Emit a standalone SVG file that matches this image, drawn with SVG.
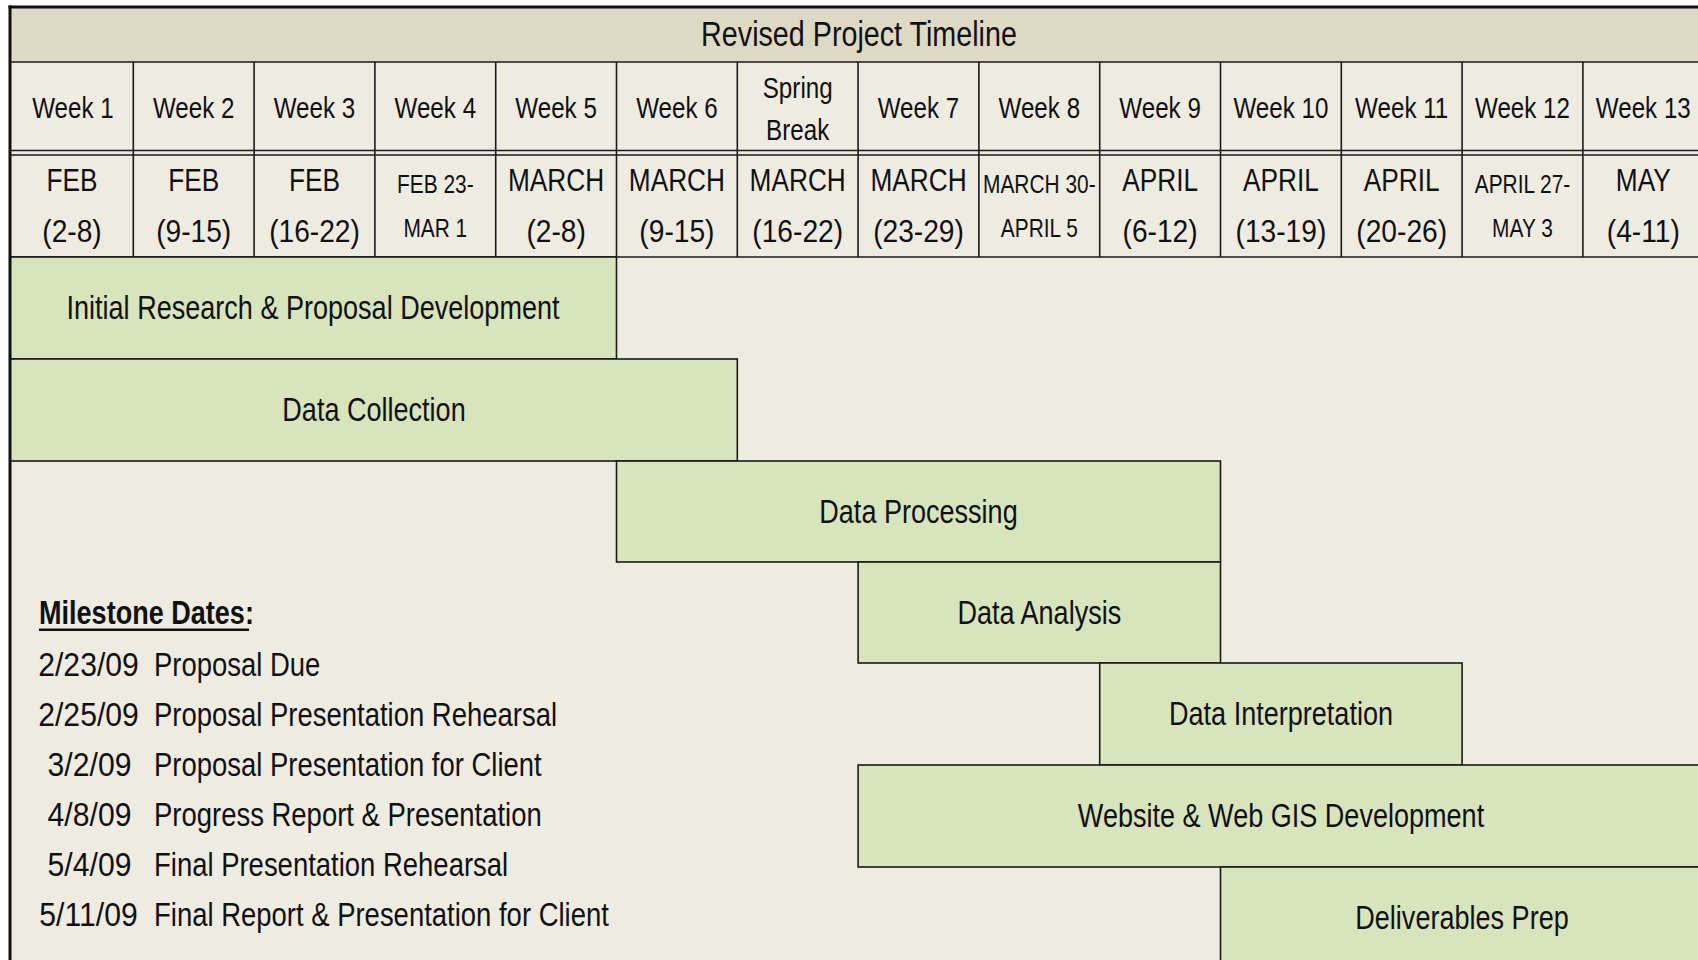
<svg xmlns="http://www.w3.org/2000/svg" width="1698" height="960" viewBox="0 0 1698 960">
<style>
text{font-family:"Liberation Sans",Arial,sans-serif;fill:#111;text-anchor:middle}
.title{font-size:35px}
.wk{font-size:29.5px}
.dt{font-size:32px}
.ds{font-size:25.5px}
.bar rect{fill:#D8E4BC;stroke:#1a1a1a;stroke-width:1.6}
.bar text{font-size:33px}
.grid line{stroke:#1a1a1a;stroke-width:1.6}
.ms text{font-size:33.5px;text-anchor:start}
.ms text.d{text-anchor:middle}
.ms text.h{font-size:33px;font-weight:bold}
</style>
<rect x="0" y="0" width="1698" height="960" fill="#ffffff"/>
<rect x="10" y="7" width="1700" height="960" fill="#EEECE1"/>
<rect x="10" y="7" width="1700" height="55" fill="#DDD9C4"/>
<g id="header-title"><text class="title" transform="translate(859,46) scale(.82,1)">Revised Project Timeline</text></g>
<g class="grid" id="grid">
<line x1="10" y1="62" x2="1698" y2="62"/>
<line x1="10" y1="150.5" x2="1698" y2="150.5"/>
<line x1="10" y1="155" x2="1698" y2="155"/>
<line x1="10" y1="257" x2="1698" y2="257"/>
<line x1="133.3" y1="62" x2="133.3" y2="257"/>
<line x1="254.1" y1="62" x2="254.1" y2="257"/>
<line x1="374.9" y1="62" x2="374.9" y2="257"/>
<line x1="495.7" y1="62" x2="495.7" y2="257"/>
<line x1="616.5" y1="62" x2="616.5" y2="257"/>
<line x1="737.3" y1="62" x2="737.3" y2="257"/>
<line x1="858.1" y1="62" x2="858.1" y2="257"/>
<line x1="978.9" y1="62" x2="978.9" y2="257"/>
<line x1="1099.7" y1="62" x2="1099.7" y2="257"/>
<line x1="1220.5" y1="62" x2="1220.5" y2="257"/>
<line x1="1341.3" y1="62" x2="1341.3" y2="257"/>
<line x1="1462.1" y1="62" x2="1462.1" y2="257"/>
<line x1="1582.9" y1="62" x2="1582.9" y2="257"/>
</g>
<g id="weeks">
<g id="wk1"><text class="wk" transform="translate(73,118) scale(.82,1)">Week 1</text></g>
<g id="wk2"><text class="wk" transform="translate(193.7,118) scale(.82,1)">Week 2</text></g>
<g id="wk3"><text class="wk" transform="translate(314.5,118) scale(.82,1)">Week 3</text></g>
<g id="wk4"><text class="wk" transform="translate(435.3,118) scale(.82,1)">Week 4</text></g>
<g id="wk5"><text class="wk" transform="translate(556.1,118) scale(.82,1)">Week 5</text></g>
<g id="wk6"><text class="wk" transform="translate(676.9,118) scale(.82,1)">Week 6</text></g>
<g id="wkSB"><text class="wk" transform="translate(797.7,98) scale(.82,1)">Spring</text><text class="wk" transform="translate(797.7,140) scale(.82,1)">Break</text></g>
<g id="wk7"><text class="wk" transform="translate(918.5,118) scale(.82,1)">Week 7</text></g>
<g id="wk8"><text class="wk" transform="translate(1039.3,118) scale(.82,1)">Week 8</text></g>
<g id="wk9"><text class="wk" transform="translate(1160.1,118) scale(.82,1)">Week 9</text></g>
<g id="wk10"><text class="wk" transform="translate(1280.9,118) scale(.82,1)">Week 10</text></g>
<g id="wk11"><text class="wk" transform="translate(1401.7,118) scale(.82,1)">Week 11</text></g>
<g id="wk12"><text class="wk" transform="translate(1522.5,118) scale(.82,1)">Week 12</text></g>
<g id="wk13"><text class="wk" transform="translate(1643.3,118) scale(.82,1)">Week 13</text></g>
</g>
<g id="dates">
<g id="d1"><text class="dt" transform="translate(72,191) scale(.82,1)">FEB</text><text class="dt" transform="translate(72,242) scale(.88,1)">(2-8)</text></g>
<g id="d2"><text class="dt" transform="translate(193.7,191) scale(.82,1)">FEB</text><text class="dt" transform="translate(193.7,242) scale(.88,1)">(9-15)</text></g>
<g id="d3"><text class="dt" transform="translate(314.5,191) scale(.82,1)">FEB</text><text class="dt" transform="translate(314.5,242) scale(.88,1)">(16-22)</text></g>
<g id="d4"><text class="ds" transform="translate(435.3,193) scale(.82,1)">FEB 23-</text><text class="ds" transform="translate(435.3,237) scale(.82,1)">MAR 1</text></g>
<g id="d5"><text class="dt" transform="translate(556.1,191) scale(.82,1)">MARCH</text><text class="dt" transform="translate(556.1,242) scale(.88,1)">(2-8)</text></g>
<g id="d6"><text class="dt" transform="translate(676.9,191) scale(.82,1)">MARCH</text><text class="dt" transform="translate(676.9,242) scale(.88,1)">(9-15)</text></g>
<g id="d7"><text class="dt" transform="translate(797.7,191) scale(.82,1)">MARCH</text><text class="dt" transform="translate(797.7,242) scale(.88,1)">(16-22)</text></g>
<g id="d8"><text class="dt" transform="translate(918.5,191) scale(.82,1)">MARCH</text><text class="dt" transform="translate(918.5,242) scale(.88,1)">(23-29)</text></g>
<g id="d9"><text class="ds" transform="translate(1039.3,193) scale(.82,1)">MARCH 30-</text><text class="ds" transform="translate(1039.3,237) scale(.82,1)">APRIL 5</text></g>
<g id="d10"><text class="dt" transform="translate(1160.1,191) scale(.82,1)">APRIL</text><text class="dt" transform="translate(1160.1,242) scale(.88,1)">(6-12)</text></g>
<g id="d11"><text class="dt" transform="translate(1280.9,191) scale(.82,1)">APRIL</text><text class="dt" transform="translate(1280.9,242) scale(.88,1)">(13-19)</text></g>
<g id="d12"><text class="dt" transform="translate(1401.7,191) scale(.82,1)">APRIL</text><text class="dt" transform="translate(1401.7,242) scale(.88,1)">(20-26)</text></g>
<g id="d13"><text class="ds" transform="translate(1522.5,193) scale(.82,1)">APRIL 27-</text><text class="ds" transform="translate(1522.5,237) scale(.82,1)">MAY 3</text></g>
<g id="d14"><text class="dt" transform="translate(1643.3,191) scale(.82,1)">MAY</text><text class="dt" transform="translate(1643.3,242) scale(.88,1)">(4-11)</text></g>
</g>
<g id="task-initial" class="bar"><rect x="10" y="257" width="606.5" height="102"/><text transform="translate(313,319) scale(.82,1)">Initial Research &amp; Proposal Development</text></g>
<g id="task-collection" class="bar"><rect x="10" y="359" width="727.3" height="102"/><text transform="translate(374,421) scale(.82,1)">Data Collection</text></g>
<g id="task-processing" class="bar"><rect x="616.5" y="461" width="604" height="101"/><text transform="translate(918.5,523) scale(.82,1)">Data Processing</text></g>
<g id="task-analysis" class="bar"><rect x="858.1" y="562" width="362.4" height="101"/><text transform="translate(1039.3,624) scale(.82,1)">Data Analysis</text></g>
<g id="task-interpretation" class="bar"><rect x="1099.7" y="663" width="362.4" height="102"/><text transform="translate(1281,725) scale(.82,1)">Data Interpretation</text></g>
<g id="task-website" class="bar"><rect x="858.1" y="765" width="860" height="102"/><text transform="translate(1281,827) scale(.82,1)">Website &amp; Web GIS Development</text></g>
<g id="task-deliverables" class="bar"><rect x="1220.5" y="867" width="500" height="120"/><text transform="translate(1462,929) scale(.82,1)">Deliverables Prep</text></g>
<g id="milestones" class="ms">
<text class="h" transform="translate(39,624) scale(.82,1)">Milestone Dates:</text>
<rect x="39" y="628.5" width="210" height="2.5" fill="#111"/>
<text class="d" transform="translate(88.5,676) scale(.9,1)">2/23/09</text><text transform="translate(154,676) scale(.82,1)">Proposal Due</text>
<text class="d" transform="translate(88.5,726) scale(.9,1)">2/25/09</text><text transform="translate(154,726) scale(.82,1)">Proposal Presentation Rehearsal</text>
<text class="d" transform="translate(89.5,776) scale(.9,1)">3/2/09</text><text transform="translate(154,776) scale(.82,1)">Proposal Presentation for Client</text>
<text class="d" transform="translate(89.5,826) scale(.9,1)">4/8/09</text><text transform="translate(154,826) scale(.82,1)">Progress Report &amp; Presentation</text>
<text class="d" transform="translate(89.5,876) scale(.9,1)">5/4/09</text><text transform="translate(154,876) scale(.82,1)">Final Presentation Rehearsal</text>
<text class="d" transform="translate(88.5,926) scale(.9,1)">5/11/09</text><text transform="translate(154,926) scale(.82,1)">Final Report &amp; Presentation for Client</text>
</g>
<g id="outer-border" fill="none" stroke="#111">
<line x1="10" y1="5.5" x2="10" y2="960" stroke-width="3"/>
<line x1="8.5" y1="7" x2="1698" y2="7" stroke-width="3"/>
</g>
</svg>
